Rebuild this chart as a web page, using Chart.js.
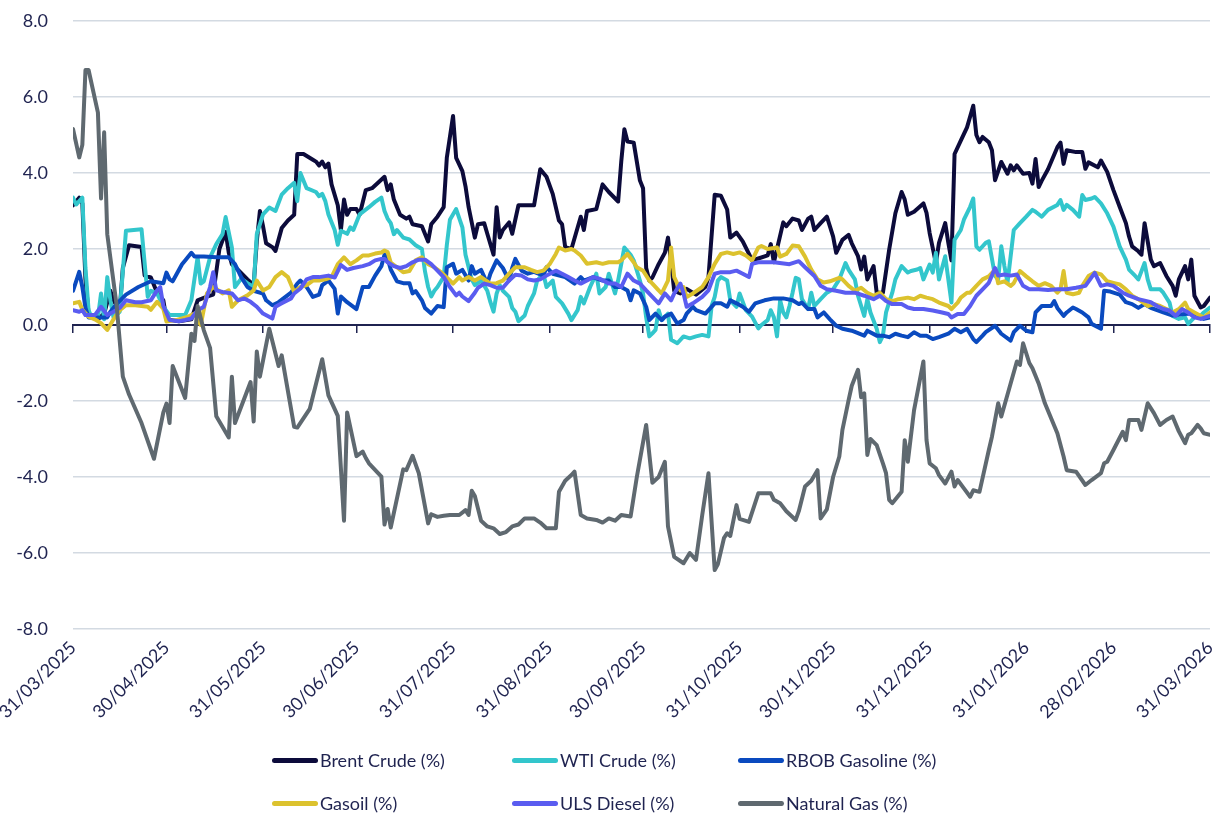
<!DOCTYPE html>
<html>
<head>
<meta charset="utf-8">
<script src="https://cdn.jsdelivr.net/npm/chart.js@4.4.1/dist/chart.umd.min.js"></script>
<style>
  html, body { margin: 0; padding: 0; background: #ffffff; }
  #wrap { position: relative; width: 1216px; height: 817px; }
  #c { position: absolute; left: 0; top: 0; }
  .lg { position: absolute; display: flex; align-items: center; font-family: Lato, "Noto Sans", sans-serif; font-size: 18px; color: #1f2350; white-space: nowrap; }
  .lg .sw { width: 46px; height: 5px; border-radius: 3px; margin-right: 2px; }
</style>
</head>
<body>
<div id="wrap">
  <canvas id="c" width="1216" height="817"></canvas>
  <div id="legend"></div>
</div>
<script>
// x values are days counted from 31/03/2025
const tickDays = [0, 30, 61, 91, 122, 153, 183, 214, 244, 275, 306, 334, 365];
const tickLabels = ['31/03/2025','30/04/2025','31/05/2025','30/06/2025','31/07/2025','31/08/2025','30/09/2025','31/10/2025','30/11/2025','31/12/2025','31/01/2026','28/02/2026','31/03/2026'];
const seriesNames = ['Brent Crude (%)', 'WTI Crude (%)', 'RBOB Gasoline (%)', 'Gasoil (%)', 'ULS Diesel (%)', 'Natural Gas (%)'];

const brentCrude = [[0,3.15],[1,3.25],[2,3.35],[3,3.2],[4,1.2],[5,0.3],[8,0.15],[10,0.3],[12,0.9],[13,0.65],[15,0.4],[16,1.5],[18,2.1],[22,2.05],[23,1.3],[25,1.25],[27,0.85],[29,0.65],[30,0.15],[34,0.1],[38,0.15],[40,0.65],[43,0.75],[45,0.8],[47,2.0],[49,2.45],[50,1.9],[51,1.6],[53,1.45],[56,1.2],[58,1.05],[59,2.2],[60,3.0],[61,2.6],[62,2.15],[64,2.05],[65,1.95],[67,2.55],[69,2.75],[71,2.9],[72,4.5],[74,4.5],[77,4.35],[78,4.3],[79,4.2],[80,4.3],[81,4.15],[82,4.25],[83,3.7],[85,3.15],[86,2.5],[87,3.3],[88,2.9],[89,3.05],[91,3.05],[92,2.9],[94,3.55],[96,3.6],[98,3.75],[100,3.9],[101,3.55],[102,3.7],[103,3.3],[105,2.9],[107,2.8],[108,2.85],[109,2.65],[112,2.6],[114,2.2],[115,2.65],[117,2.85],[119,3.1],[120,4.4],[122,5.5],[123,4.4],[125,4.05],[126,3.65],[127,3.1],[129,2.3],[130,2.65],[132,2.68],[133,2.4],[135,1.85],[136,3.1],[137,2.3],[138,2.5],[140,2.7],[141,2.4],[143,3.15],[145,3.15],[148,3.15],[150,4.1],[152,3.9],[154,3.45],[156,2.75],[157,2.65],[158,2.05],[160,2.0],[163,2.85],[164,2.5],[165,3.0],[168,3.05],[170,3.7],[172,3.5],[175,3.25],[176,4.3],[177,5.15],[178,4.83],[180,4.8],[182,3.8],[183,3.6],[184,1.5],[185,1.17],[186,1.25],[188,1.6],[190,1.9],[191,2.3],[192,1.65],[193,0.9],[195,0.83],[197,0.95],[200,0.8],[203,1.0],[204,1.26],[206,3.43],[208,3.4],[210,3.04],[211,2.3],[213,2.43],[215,2.2],[217,1.87],[218,1.7],[220,1.75],[223,1.83],[224,2.13],[225,1.65],[228,2.7],[229,2.6],[231,2.8],[233,2.75],[234,2.5],[236,2.8],[237,2.85],[238,2.5],[240,2.68],[242,2.85],[244,2.33],[245,1.9],[247,2.24],[249,2.37],[250,2.15],[252,1.81],[253,1.46],[254,1.8],[255,1.2],[257,1.55],[258,0.85],[260,0.85],[262,1.98],[264,2.94],[266,3.5],[267,3.3],[268,2.9],[270,2.98],[273,3.2],[274,2.95],[275,2.42],[277,1.63],[278,2.16],[280,2.68],[281,2.16],[282,1.7],[283,4.5],[285,4.85],[287,5.2],[289,5.77],[290,5.0],[291,4.81],[292,4.95],[294,4.81],[295,4.6],[296,3.81],[298,4.29],[300,3.98],[301,4.2],[302,4.07],[303,4.2],[305,3.98],[307,4.0],[308,3.72],[309,4.37],[310,3.63],[311,3.8],[313,4.1],[316,4.68],[317,4.8],[318,4.24],[319,4.6],[322,4.55],[324,4.55],[325,4.11],[326,4.28],[329,4.15],[330,4.33],[332,4.03],[334,3.55],[336,3.11],[338,2.68],[339,2.33],[340,2.07],[342,1.94],[343,1.85],[344,2.68],[345,2.2],[346,1.72],[347,1.55],[349,1.63],[351,1.29],[353,1.03],[354,0.77],[355,1.2],[357,1.55],[358,1.2],[359,1.72],[360,0.77],[362,0.46],[363,0.5],[365,0.72]];

const wtiCrude = [[0,3.35],[1,3.17],[3,3.35],[4,1.5],[5,0.39],[6,0.2],[8,0.2],[9,0.83],[10,0.15],[11,1.26],[12,0.65],[13,0.2],[15,0.35],[17,2.48],[22,2.52],[24,0.74],[25,0.9],[27,0.83],[29,0.48],[31,0.26],[36,0.26],[38,0.65],[40,1.78],[41,1.09],[42,1.15],[44,1.78],[46,2.13],[48,2.39],[49,2.84],[51,2.04],[52,1.0],[54,1.22],[56,1.1],[58,1.0],[59,2.39],[61,2.91],[63,3.09],[65,3.0],[67,3.43],[69,3.6],[71,3.74],[72,3.26],[73,4.0],[75,3.6],[78,3.5],[79,3.39],[80,3.45],[81,3.26],[82,2.91],[84,2.5],[85,2.11],[86,2.48],[88,2.4],[89,2.57],[90,2.5],[92,2.91],[95,3.1],[97,3.24],[99,3.35],[100,3.0],[101,2.8],[102,2.68],[103,2.39],[104,2.5],[106,2.3],[108,2.25],[110,2.1],[112,2.0],[113,1.41],[114,1.0],[115,0.75],[116,0.9],[117,1.0],[119,1.27],[120,2.1],[121,2.77],[123,3.05],[125,2.57],[126,1.85],[128,1.2],[129,1.05],[131,1.17],[133,0.9],[134,0.6],[135,0.35],[136,0.83],[137,1.05],[138,0.9],[140,0.74],[141,0.45],[142,0.35],[143,0.1],[145,0.25],[146,0.5],[148,0.83],[149,1.17],[151,1.35],[152,1.0],[154,1.17],[155,0.74],[157,0.57],[159,0.3],[160,0.13],[162,0.39],[163,0.74],[164,0.57],[166,1.0],[168,1.35],[169,0.83],[171,1.0],[172,1.35],[174,0.83],[175,1.17],[177,2.04],[179,1.85],[180,1.7],[182,1.17],[183,0.83],[184,0.2],[185,-0.3],[186,-0.22],[187,-0.13],[188,0.39],[189,0.13],[191,0.3],[192,-0.39],[194,-0.48],[196,-0.3],[198,-0.35],[200,-0.3],[202,-0.26],[204,-0.3],[205,0.5],[206,0.74],[207,1.17],[208,1.26],[210,1.17],[211,0.65],[213,0.48],[214,0.83],[216,0.39],[218,0.22],[220,-0.09],[221,0.0],[223,0.13],[224,0.39],[225,0.2],[226,-0.3],[227,0.65],[228,0.33],[229,0.2],[230,0.5],[231,0.85],[232,1.24],[233,1.2],[234,0.68],[236,0.42],[237,0.85],[238,0.5],[240,0.68],[242,0.85],[244,0.94],[246,1.2],[248,1.63],[249,1.45],[251,1.2],[252,0.77],[254,0.24],[255,0.68],[256,0.33],[258,-0.1],[259,-0.45],[260,-0.28],[261,0.33],[263,0.85],[264,1.2],[266,1.55],[268,1.38],[269,1.42],[271,1.46],[272,1.5],[273,1.2],[275,1.59],[276,1.38],[277,1.9],[278,1.2],[280,1.81],[281,1.2],[282,0.59],[283,2.24],[285,2.5],[286,2.77],[288,3.11],[289,3.33],[290,2.07],[291,1.98],[293,2.16],[294,2.2],[296,1.29],[297,1.2],[298,2.07],[299,1.55],[300,1.11],[302,2.5],[304,2.68],[306,2.85],[308,3.03],[309,2.98],[311,2.85],[313,3.03],[316,3.16],[317,3.29],[318,3.03],[319,3.16],[321,3.03],[323,2.85],[324,3.42],[325,3.29],[327,3.33],[328,3.37],[330,3.2],[332,2.94],[334,2.59],[336,2.07],[338,1.72],[339,1.46],[341,1.29],[342,1.2],[344,1.63],[345,1.2],[346,0.94],[349,0.94],[350,0.85],[352,0.59],[353,0.24],[355,0.16],[357,0.2],[358,0.03],[360,0.2],[362,0.24],[363,0.33],[365,0.46]];

const rbobGasoline = [[0,0.9],[2,1.4],[3,1.0],[4,0.45],[5,0.2],[8,0.2],[11,0.2],[12,0.35],[14,0.55],[17,0.8],[21,1.0],[25,1.15],[29,1.1],[30,1.38],[31,1.2],[32,1.15],[35,1.6],[36,1.7],[38,1.9],[39,1.8],[42,1.8],[46,1.78],[50,1.78],[52,1.6],[54,1.26],[56,1.0],[58,0.9],[61,0.83],[62,0.65],[64,0.52],[66,0.6],[70,0.85],[72,1.09],[73,1.17],[75,1.0],[77,0.74],[79,0.8],[80,1.05],[82,1.17],[84,0.95],[85,0.3],[86,0.75],[88,0.6],[91,0.42],[93,1.0],[95,1.0],[97,1.3],[99,1.55],[100,1.85],[101,1.75],[102,1.46],[104,1.15],[106,1.1],[108,1.1],[109,0.83],[110,0.89],[112,0.65],[113,0.45],[115,0.3],[117,0.5],[119,0.47],[120,1.52],[122,1.61],[123,1.35],[125,1.45],[127,1.17],[128,1.55],[129,1.35],[131,1.45],[133,1.09],[134,1.35],[136,1.7],[138,1.5],[140,1.17],[141,1.5],[142,1.74],[144,1.43],[146,1.35],[148,1.4],[151,1.3],[152,1.52],[154,1.35],[158,1.26],[161,1.09],[163,1.26],[164,1.17],[167,1.26],[170,1.17],[172,1.17],[174,1.0],[176,1.0],[178,0.91],[179,0.65],[180,0.91],[182,0.83],[184,0.48],[185,0.13],[187,0.3],[189,0.13],[190,0.22],[192,0.3],[194,0.04],[196,0.13],[197,0.3],[199,0.48],[200,0.39],[203,0.3],[206,0.57],[208,0.57],[210,0.48],[211,0.65],[213,0.57],[215,0.48],[217,0.35],[219,0.57],[222,0.65],[225,0.7],[228,0.7],[231,0.65],[233,0.55],[234,0.59],[236,0.42],[238,0.42],[239,0.2],[241,0.33],[243,0.15],[245,-0.02],[247,-0.1],[250,-0.15],[254,-0.28],[255,-0.15],[258,-0.28],[260,-0.28],[262,-0.32],[264,-0.23],[266,-0.28],[268,-0.32],[270,-0.19],[272,-0.28],[274,-0.28],[276,-0.37],[278,-0.32],[281,-0.23],[283,-0.1],[285,-0.19],[287,-0.1],[289,-0.37],[290,-0.45],[292,-0.28],[293,-0.19],[296,-0.02],[298,-0.23],[301,-0.41],[302,-0.19],[304,-0.02],[306,-0.15],[308,-0.19],[309,0.33],[311,0.5],[314,0.5],[315,0.63],[316,0.45],[318,0.24],[319,0.33],[321,0.46],[322,0.42],[324,0.33],[326,0.2],[327,0.03],[330,-0.1],[331,0.9],[333,0.88],[336,0.8],[338,0.6],[340,0.55],[342,0.45],[344,0.55],[346,0.45],[350,0.33],[353,0.25],[356,0.28],[359,0.3],[361,0.2],[363,0.16],[365,0.2]];

const gasoil = [[0,0.57],[2,0.61],[3,0.4],[5,0.22],[7,0.15],[9,0.05],[11,-0.13],[13,0.15],[15,0.39],[17,0.52],[20,0.52],[24,0.48],[25,0.4],[27,0.61],[29,0.43],[30,0.09],[33,0.13],[37,0.22],[39,0.3],[41,0.0],[43,0.83],[45,1.0],[46,0.95],[48,0.83],[50,0.91],[51,0.48],[53,0.65],[56,0.78],[58,0.91],[59,1.17],[61,0.91],[63,1.0],[65,1.26],[67,1.39],[69,1.26],[71,0.87],[73,1.0],[75,1.05],[77,1.17],[79,1.17],[81,1.2],[83,1.26],[85,1.6],[87,1.78],[89,1.6],[91,1.7],[93,1.83],[95,1.83],[97,1.88],[99,1.91],[100,1.96],[101,1.92],[102,1.64],[104,1.52],[106,1.39],[108,1.42],[110,1.7],[112,1.78],[114,1.6],[116,1.52],[118,1.4],[121,1.17],[122,1.09],[124,1.26],[125,1.17],[127,1.26],[129,1.17],[131,1.26],[134,1.09],[136,1.1],[138,1.17],[140,1.35],[142,1.52],[145,1.52],[147,1.45],[149,1.39],[151,1.43],[153,1.6],[155,1.87],[156,2.04],[158,1.96],[160,2.0],[161,1.96],[163,1.83],[165,1.61],[168,1.65],[170,1.61],[172,1.65],[175,1.65],[176,1.7],[178,1.87],[180,1.65],[181,1.52],[183,1.43],[185,1.17],[186,1.09],[188,0.91],[189,0.83],[191,1.17],[192,2.04],[193,1.26],[195,0.91],[196,1.0],[197,0.74],[199,0.83],[202,1.0],[204,1.26],[206,1.61],[208,1.87],[210,1.91],[212,1.87],[214,1.91],[216,1.83],[218,1.7],[220,2.04],[221,2.08],[223,2.0],[226,2.04],[227,1.8],[229,1.87],[231,2.09],[233,2.07],[235,1.8],[237,1.46],[239,1.2],[241,1.12],[243,1.15],[246,1.24],[247,1.2],[249,1.03],[251,0.9],[253,0.98],[255,0.85],[257,0.77],[259,0.85],[261,0.68],[263,0.63],[265,0.68],[268,0.72],[270,0.68],[272,0.77],[274,0.72],[276,0.68],[278,0.59],[281,0.5],[282,0.42],[284,0.59],[285,0.72],[287,0.85],[288,0.85],[290,1.03],[292,1.2],[294,1.28],[296,1.46],[297,1.1],[299,1.15],[301,1.03],[302,1.1],[304,1.42],[306,1.28],[308,1.15],[310,1.03],[312,1.1],[314,1.03],[316,0.85],[317,0.94],[318,1.42],[319,0.85],[321,0.81],[323,0.85],[324,1.03],[326,1.29],[328,1.38],[330,1.33],[332,1.15],[334,1.11],[336,1.07],[338,0.94],[340,0.77],[342,0.68],[345,0.5],[347,0.55],[349,0.5],[351,0.42],[353,0.33],[355,0.42],[357,0.59],[358,0.42],[360,0.33],[363,0.2],[365,0.33]];

const ulsDiesel = [[0,0.39],[2,0.35],[3,0.39],[4,0.26],[7,0.26],[9,0.48],[11,0.26],[13,0.35],[15,0.45],[17,0.65],[20,0.6],[22,0.6],[25,0.65],[27,0.91],[28,1.0],[29,0.5],[31,0.13],[34,0.1],[36,0.13],[38,0.17],[40,0.39],[42,0.48],[44,1.0],[45,1.39],[46,0.91],[48,0.87],[51,0.83],[53,0.65],[55,0.7],[57,0.61],[59,0.48],[61,0.3],[64,0.17],[65,0.48],[67,0.57],[70,0.7],[71,0.83],[73,0.96],[75,1.2],[77,1.26],[79,1.26],[82,1.3],[84,1.25],[86,1.58],[88,1.45],[90,1.5],[93,1.55],[95,1.6],[97,1.7],[99,1.74],[100,1.74],[101,1.65],[103,1.55],[105,1.5],[107,1.55],[109,1.65],[111,1.72],[113,1.72],[115,1.6],[117,1.43],[119,1.26],[121,1.0],[123,0.78],[124,0.85],[125,0.75],[127,0.63],[129,0.85],[130,0.98],[132,1.09],[134,1.05],[136,0.98],[138,0.98],[140,1.17],[142,1.32],[144,1.3],[146,1.2],[148,1.17],[150,1.2],[152,1.3],[155,1.43],[157,1.35],[159,1.26],[161,1.17],[163,1.09],[165,1.17],[167,1.26],[169,1.22],[172,1.09],[174,1.09],[176,1.0],[178,1.35],[180,1.17],[182,1.09],[184,0.91],[186,0.74],[188,0.57],[190,0.83],[192,0.65],[193,0.83],[195,1.09],[196,0.83],[197,0.48],[199,0.57],[202,0.74],[204,0.91],[206,1.35],[208,1.39],[211,1.39],[213,1.43],[215,1.35],[217,1.26],[218,1.61],[220,1.65],[225,1.65],[230,1.6],[233,1.68],[235,1.52],[238,1.29],[240,1.03],[242,0.94],[245,0.9],[248,0.85],[251,0.85],[254,0.77],[257,0.68],[259,0.77],[261,0.63],[263,0.55],[266,0.55],[268,0.46],[270,0.42],[273,0.42],[276,0.38],[279,0.33],[281,0.29],[282,0.2],[284,0.29],[286,0.29],[288,0.5],[290,0.77],[292,0.94],[294,1.11],[296,1.5],[297,1.3],[299,1.33],[301,1.3],[303,1.33],[305,1.03],[307,0.94],[310,0.94],[313,0.92],[316,0.94],[319,0.94],[322,0.98],[325,1.03],[328,1.37],[330,1.03],[332,1.07],[334,1.03],[337,0.85],[339,0.77],[342,0.68],[344,0.64],[346,0.6],[348,0.5],[350,0.42],[352,0.38],[354,0.24],[356,0.42],[358,0.33],[360,0.2],[362,0.16],[365,0.24]];

const naturalGas = [[0,5.16],[2,4.41],[3,4.74],[4,6.71],[5,6.71],[8,5.59],[9,3.33],[10,5.07],[11,2.39],[14,0.52],[16,-1.36],[18,-1.83],[22,-2.58],[26,-3.52],[29,-2.3],[30,-2.07],[31,-2.58],[32,-1.08],[36,-1.92],[38,-0.23],[39,-0.42],[40,0.5],[42,-0.14],[44,-0.6],[46,-2.4],[50,-2.96],[51,-1.36],[52,-2.58],[57,-1.5],[58,-2.54],[59,-0.7],[60,-1.36],[63,-0.1],[66,-1.08],[67,-0.8],[71,-2.68],[72,-2.7],[76,-2.21],[78,-1.55],[80,-0.9],[82,-1.85],[85,-2.39],[87,-5.15],[88,-2.3],[91,-3.45],[93,-3.33],[94,-3.5],[95,-3.64],[99,-3.99],[100,-5.25],[101,-4.84],[102,-5.33],[106,-3.8],[107,-3.82],[109,-3.44],[111,-3.9],[114,-5.22],[115,-4.98],[117,-5.05],[119,-5.02],[121,-5.0],[124,-5.0],[126,-4.87],[127,-5.0],[128,-4.36],[129,-4.5],[131,-5.15],[133,-5.3],[135,-5.35],[137,-5.5],[139,-5.45],[141,-5.3],[143,-5.25],[145,-5.09],[148,-5.09],[150,-5.2],[152,-5.35],[155,-5.35],[156,-4.39],[158,-4.1],[160,-3.95],[161,-3.86],[163,-5.0],[165,-5.09],[168,-5.13],[170,-5.2],[172,-5.09],[174,-5.15],[176,-5.0],[179,-5.04],[181,-4.0],[184,-2.63],[186,-4.15],[188,-4.0],[190,-3.6],[191,-5.3],[193,-6.1],[196,-6.27],[198,-6.0],[200,-6.18],[202,-5.0],[204,-3.9],[206,-6.45],[207,-6.3],[209,-5.6],[210,-5.48],[211,-5.55],[213,-4.74],[214,-5.1],[217,-5.18],[220,-4.43],[224,-4.43],[225,-4.6],[227,-4.69],[229,-4.9],[232,-5.13],[233,-4.9],[235,-4.25],[237,-4.1],[239,-3.82],[240,-5.09],[242,-4.85],[244,-4.0],[246,-3.46],[247,-2.76],[249,-1.97],[250,-1.6],[252,-1.18],[253,-1.9],[254,-1.8],[255,-3.42],[256,-3.0],[258,-3.16],[260,-3.64],[261,-3.9],[262,-4.6],[263,-4.69],[266,-4.39],[267,-3.03],[268,-3.6],[270,-2.24],[273,-0.96],[274,-3.03],[275,-3.64],[277,-3.77],[278,-3.95],[280,-4.17],[282,-3.86],[283,-4.25],[284,-4.08],[286,-4.3],[288,-4.52],[289,-4.35],[291,-4.39],[294,-3.29],[295,-2.94],[297,-2.06],[298,-2.41],[301,-1.54],[303,-0.96],[304,-1.05],[305,-0.48],[307,-1.0],[308,-1.14],[310,-1.54],[312,-2.06],[316,-2.85],[318,-3.46],[319,-3.82],[322,-3.86],[325,-4.21],[327,-4.08],[330,-3.9],[331,-3.64],[332,-3.6],[334,-3.29],[337,-2.81],[338,-3.03],[339,-2.5],[342,-2.5],[343,-2.76],[345,-2.06],[347,-2.32],[349,-2.63],[351,-2.5],[353,-2.41],[355,-2.8],[357,-3.11],[358,-2.89],[359,-2.85],[361,-2.63],[362,-2.72],[363,-2.85],[365,-2.89]];

const seriesData = [brentCrude, wtiCrude, rbobGasoline, gasoil, ulsDiesel, naturalGas];
const seriesColors = ['#0c0b3b', '#33c6cc', '#0a4abf', '#dcc22e', '#5a5cf0', '#5f6970'];

const NAVY = '#1f2350';
const FONT = 'Lato, "Noto Sans", sans-serif';

function setMonthTicks(scale) {
  scale.ticks = tickDays.map(v => ({ value: v }));
}
function noSidePadding(scale) {
  scale.paddingLeft = 0;
  scale.paddingRight = 0;
}

const datasets = seriesData.map((pts, i) => ({
  label: seriesNames[i],
  data: pts.map(p => ({ x: p[0], y: p[1] })),
  borderColor: seriesColors[i],
  backgroundColor: seriesColors[i],
  borderWidth: 4,
  pointRadius: 0,
  tension: 0,
  fill: false,
  borderCapStyle: 'round',
  borderJoinStyle: 'round',
  order: seriesData.length - i
}));

const chart = new Chart(document.getElementById('c'), {
  type: 'line',
  data: { datasets },
  options: {
    responsive: false,
    animation: false,
    devicePixelRatio: 1,
    layout: { padding: { top: 21, right: 6, bottom: 83, left: 0 } },
    plugins: { legend: { display: false }, tooltip: { enabled: false } },
    scales: {
      x: {
        type: 'linear', min: 0, max: 365, position: 'bottom',
        grid: { display: false, drawTicks: false },
        border: { display: false },
        afterBuildTicks: setMonthTicks,
        afterFit: s => { s.height = 105; noSidePadding(s); },
        ticks: {
          autoSkip: false, minRotation: 45, maxRotation: 45, padding: 8,
          color: NAVY, font: { family: FONT, size: 18 },
          callback: v => { const k = tickDays.indexOf(v); return k >= 0 ? tickLabels[k] : ''; }
        }
      },
      x2: {
        type: 'linear', min: 0, max: 365, position: { y: 0 },
        afterBuildTicks: setMonthTicks,
        afterFit: noSidePadding,
        grid: { drawOnChartArea: false, drawTicks: true, tickLength: 7, color: NAVY, lineWidth: 1.5 },
        border: { display: true, color: NAVY, width: 2 },
        ticks: { display: false }
      },
      y: {
        min: -8, max: 8,
        afterFit: s => { s.width = 73; s.paddingTop = 0; s.paddingBottom = 0; },
        border: { display: false },
        grid: {
          drawTicks: false, lineWidth: 1.5,
          color: ctx => (ctx.tick && ctx.tick.value === 0) ? 'rgba(0,0,0,0)' : '#d3dae2'
        },
        ticks: {
          stepSize: 2, padding: 25, color: NAVY,
          font: { family: FONT, size: 18 },
          callback: v => Number(v).toFixed(1)
        }
      }
    }
  }
});

// HTML legend laid out in 3 aligned columns
const legendCols = [272, 512, 738];
const legendRows = [749, 792];
const legendEl = document.getElementById('legend');
chart.data.datasets.forEach((ds, i) => {
  const item = document.createElement('div');
  item.className = 'lg';
  item.style.left = legendCols[i % 3] + 'px';
  item.style.top = legendRows[Math.floor(i / 3)] + 'px';
  item.style.height = '22px';
  const sw = document.createElement('span');
  sw.className = 'sw';
  sw.style.background = ds.borderColor;
  const tx = document.createElement('span');
  tx.textContent = ds.label;
  item.appendChild(sw);
  item.appendChild(tx);
  legendEl.appendChild(item);
});
</script>
</body>
</html>
